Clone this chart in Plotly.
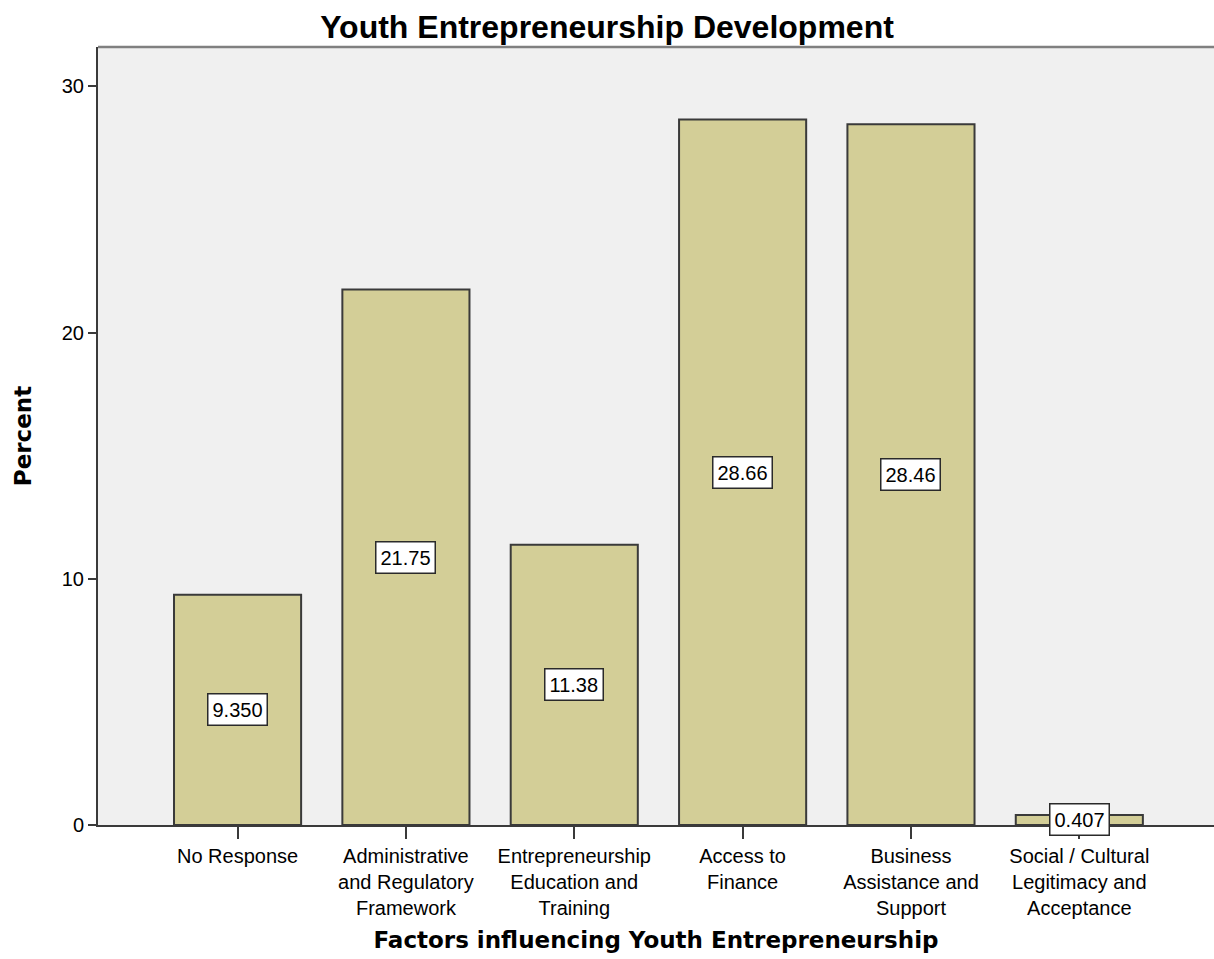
import plotly.graph_objects as go

# Factor categories (line breaks as shown under each bar)
categories = [
    "No Response",
    "Administrative<br>and Regulatory<br>Framework",
    "Entrepreneurship<br>Education and<br>Training",
    "Access to<br>Finance",
    "Business<br>Assistance and<br>Support",
    "Social / Cultural<br>Legitimacy and<br>Acceptance",
]
percent = [9.350, 21.75, 11.38, 28.66, 28.46, 0.407]
y_ticks = [0, 10, 20, 30]


def fmt(v):
    # four significant digits, SPSS style
    return f"{v:.3f}" if v < 10 else f"{v:.2f}"


FONT = "Liberation Sans, Arial, sans-serif"
BOLD = "DejaVu Sans, Verdana, sans-serif"

fig = go.Figure()
fig.add_trace(go.Bar(
    x=list(range(len(categories))),
    y=percent,
    width=0.755,
    marker=dict(color="#D3CE97", line=dict(color="#3A3A3A", width=2)),
    hoverinfo="skip",
))

for i, v in enumerate(percent):
    fig.add_annotation(
        x=i, y=v / 2, text=fmt(v), showarrow=False,
        font=dict(family=FONT, size=20, color="#000000"),
        bgcolor="#FFFFFF", bordercolor="#2A2A2A", borderwidth=1.5, borderpad=4,
    )

fig.update_layout(
    width=1214, height=959,
    margin=dict(l=98, r=0, t=47, b=134),
    paper_bgcolor="#FFFFFF",
    plot_bgcolor="#F0F0F0",
    showlegend=False,
    font=dict(family=FONT, size=20, color="#000000"),
    title=dict(
        text="<b>Youth Entrepreneurship Development</b>",
        x=0.5, xanchor="center", y=0.972, yanchor="middle",
        font=dict(family=FONT, size=32, color="#000000"),
    ),
    xaxis=dict(
        tickmode="array",
        tickvals=list(range(len(categories))),
        ticktext=categories,
        range=[-0.829, 5.80],
        showgrid=False, zeroline=False,
        showline=True, linecolor="#3A3A3A", linewidth=2, mirror=False,
        ticks="outside", ticklen=12, tickwidth=1.5, tickcolor="#3A3A3A",
        tickfont=dict(family=FONT, size=20),
        title=dict(
            text="<b>Factors influencing Youth Entrepreneurship</b>",
            font=dict(family=BOLD, size=23), standoff=14,
        ),
    ),
    yaxis=dict(
        range=[0, 31.6],
        tickvals=y_ticks,
        showgrid=False, zeroline=False,
        showline=True, linecolor="#3A3A3A", linewidth=2,
        ticks="outside", ticklen=8, tickwidth=2, tickcolor="#3A3A3A",
        tickfont=dict(family=FONT, size=20),
        title=dict(text="<b>Percent</b>", font=dict(family=BOLD, size=23), standoff=24),
    ),
)

# top border of the plot frame
fig.add_shape(type="line", xref="paper", yref="paper", x0=0, x1=1, y0=1, y1=1,
              line=dict(color="#808080", width=2.5))

fig.write_html("out.html")
